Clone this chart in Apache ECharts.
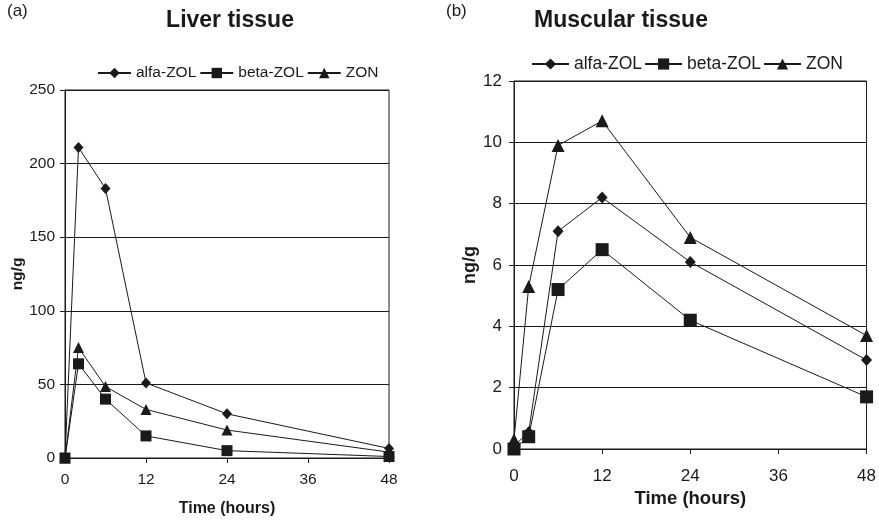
<!DOCTYPE html>
<html>
<head>
<meta charset="utf-8">
<script src="https://cdn.jsdelivr.net/npm/echarts@6/dist/echarts.min.js"></script>
<style>html,body{margin:0;padding:0;background:#fff}#c{width:879px;height:522px}</style>
</head>
<body>
<div id="c"></div>
<script>
var hours = [0, 2, 6, 12, 24, 48];
var seriesNames = ['alfa-ZOL', 'beta-ZOL', 'ZON'];
var liverAlfa = [0, 211, 183, 51, 30, 6.5];
var liverBeta = [0, 64, 40, 15, 5, 1];
var liverZon = [0, 75, 48.5, 33, 19, 4];
var muscleAlfa = [0.1, 0.55, 7.1, 8.2, 6.1, 2.9];
var muscleBeta = [0, 0.4, 5.2, 6.5, 4.2, 1.7];
var muscleZon = [0.3, 5.3, 9.9, 10.7, 6.9, 3.7];
var xTicks = [0, 12, 24, 36, 48];
var panelTitles = ['Liver tissue', 'Muscular tissue'];
var panelLabels = ['(a)', '(b)'];

var FONT = 'Liberation Sans, Arial, sans-serif';
var INK = '#1a1a1a';
function pairs(vals) { return hours.map(function (h, i) { return [h, vals[i]]; }); }
var symbols = ['diamond', 'rect', 'triangle'];
var symSizesL = [[10, 11], 11, [11, 11]];
var symSizesR = [[11, 12], 13, [13, 13]];

function mkSeries(vals, idx, gi, sizes) {
  return {
    type: 'line', name: seriesNames[idx], xAxisIndex: gi, yAxisIndex: gi,
    data: pairs(vals), symbol: symbols[idx], symbolSize: sizes[idx],
    showAllSymbol: true, animation: false,
    lineStyle: { color: INK, width: 1 },
    itemStyle: { color: INK, borderColor: INK, borderWidth: 0 },
    z: 3 + idx
  };
}

function xAx(gi, fs, margin, nameFs, nameGap) {
  return {
    gridIndex: gi, type: 'value', min: xTicks[0], max: xTicks[xTicks.length - 1], interval: 12,
    name: 'Time (hours)', nameLocation: 'middle', nameGap: nameGap,
    nameTextStyle: { fontFamily: FONT, fontWeight: 'bold', fontSize: nameFs, color: INK },
    axisLine: { show: true, onZero: false, lineStyle: { color: INK, width: 1 } },
    axisTick: { show: true, inside: false, length: 5, lineStyle: { color: INK } },
    axisLabel: { fontFamily: FONT, fontSize: fs, color: INK, margin: margin },
    splitLine: { show: false }
  };
}
function yAx(gi, max, interval, fs, margin, nameFs, nameGap) {
  return {
    gridIndex: gi, type: 'value', min: 0, max: max, interval: interval,
    name: 'ng/g', nameLocation: 'middle', nameGap: nameGap, nameRotate: 90,
    nameTextStyle: { fontFamily: FONT, fontWeight: 'bold', fontSize: nameFs, color: INK },
    axisLine: { show: true, lineStyle: { color: INK, width: 1 } },
    axisTick: { show: true, inside: false, length: 5, lineStyle: { color: INK } },
    axisLabel: { fontFamily: FONT, fontSize: fs, color: INK, margin: margin },
    splitLine: { show: true, lineStyle: { color: INK, width: 1 } }
  };
}

var chart = echarts.init(document.getElementById('c'), null, { renderer: 'canvas' });
chart.setOption({
  backgroundColor: '#fff',
  animation: false,
  graphic: [
    { type: 'text', left: 7, top: 3, style: { text: panelLabels[0], font: '17px ' + FONT, fill: INK } },
    { type: 'text', x: 230, y: 21, style: { text: panelTitles[0], font: 'bold 23px ' + FONT, fill: INK, textAlign: 'center', textVerticalAlign: 'middle' } },
    { type: 'text', left: 446, top: 3, style: { text: panelLabels[1], font: '17px ' + FONT, fill: INK } },
    { type: 'text', x: 621, y: 21, style: { text: panelTitles[1], font: 'bold 23px ' + FONT, fill: INK, textAlign: 'center', textVerticalAlign: 'middle' } }
  ],
  legend: [
    { left: 92, top: 60, itemWidth: 33, itemHeight: 13, itemGap: 3, data: seriesNames,
      textStyle: { fontFamily: FONT, fontSize: 15.5, color: INK }, selectedMode: false },
    { left: 526, top: 50, itemWidth: 37, itemHeight: 14, itemGap: 2, data: seriesNames,
      textStyle: { fontFamily: FONT, fontSize: 17.5, color: INK }, selectedMode: false }
  ],
  grid: [
    { left: 65, right: 490, top: 90, bottom: 61, show: true, borderColor: INK, borderWidth: 1, backgroundColor: 'transparent' },
    { left: 514, right: 12, top: 81, bottom: 73, show: true, borderColor: INK, borderWidth: 1, backgroundColor: 'transparent' }
  ],
  xAxis: [ xAx(0, 15.5, 14, 16, 43), xAx(1, 17, 19, 18.5, 40) ],
  yAxis: [ yAx(0, 250, 50, 15.5, 10, 15.5, 38), yAx(1, 12, 2, 17, 12, 18, 35) ],
  series: [
    mkSeries(liverAlfa, 0, 0, symSizesL),
    mkSeries(liverBeta, 1, 0, symSizesL),
    mkSeries(liverZon, 2, 0, symSizesL),
    mkSeries(muscleAlfa, 0, 1, symSizesR),
    mkSeries(muscleBeta, 1, 1, symSizesR),
    mkSeries(muscleZon, 2, 1, symSizesR)
  ]
});
</script>
</body>
</html>
